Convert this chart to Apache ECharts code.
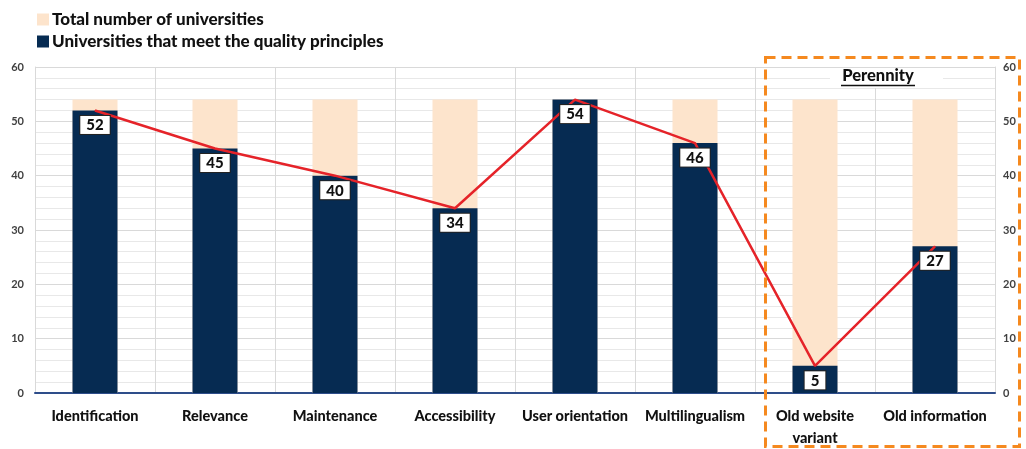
<!DOCTYPE html>
<html><head><meta charset="utf-8">
<script src="https://cdn.jsdelivr.net/npm/echarts@6/dist/echarts.min.js"></script>
<style>html,body{margin:0;padding:0;background:#fff}#c{width:1026px;height:449px}</style>
</head><body><div id="c"></div>
<script>
const categories = ['Identification','Relevance','Maintenance','Accessibility','User orientation','Multilingualism','Old website\nvariant','Old information'];
const totalUniversities = [54,54,54,54,54,54,54,54];
const qualityUniversities = [52,45,40,34,54,46,5,27];
const yTicks = [0,10,20,30,40,50,60];

const FONT = 'Lato';
const chart = echarts.init(document.getElementById('c'));
const yAxisBase = {
  type:'value', min:yTicks[0], max:yTicks[yTicks.length-1], interval:10,
  axisLabel:{fontFamily:FONT, fontWeight:'bold', fontSize:11, color:'#404040', margin:11},
  axisLine:{show:true, lineStyle:{color:'#d9d9d9', width:1}},
  axisTick:{show:false},
  splitLine:{show:true, lineStyle:{color:'#d9d9d9', width:1}},
  minorTick:{show:false, splitNumber:5},
  minorSplitLine:{show:true, lineStyle:{color:'#e8e8e8', width:1}}
};
chart.setOption({
  animation:false,
  backgroundColor:'#fff',
  textStyle:{fontFamily:FONT},
  legend:{
    orient:'vertical', left:32, top:6, itemGap:5, itemWidth:12, itemHeight:12,
    icon:'rect', data:['Total number of universities','Universities that meet the quality principles'],
    textStyle:{fontFamily:FONT, fontWeight:900, fontSize:17, color:'#111', padding:[0,0,0,-2]}
  },
  grid:{left:35, right:31, top:67, bottom:53, containLabel:false},
  xAxis:{
    type:'category', data:categories, boundaryGap:true,
    axisLine:{show:true, lineStyle:{color:'#2e4d8a', width:2}},
    axisTick:{show:false},
    splitLine:{show:true, lineStyle:{color:'#d9d9d9', width:1}},
    axisLabel:{fontFamily:FONT, fontWeight:900, fontSize:14.5, color:'#111', margin:12, interval:0, lineHeight:22}
  },
  yAxis:[Object.assign({position:'left'}, yAxisBase),
         Object.assign({position:'right'}, yAxisBase, {splitLine:{show:false}, minorSplitLine:{show:false},
           axisLabel:{fontFamily:FONT, fontWeight:'bold', fontSize:11, color:'#404040', margin:8}})],
  series:[
    {name:'Total number of universities', type:'bar', data:totalUniversities, barWidth:'37.5%',
     itemStyle:{color:'#fde4cc'}, z:1},
    {name:'Universities that meet the quality principles', type:'bar', data:qualityUniversities, barWidth:'37.5%', barGap:'-100%',
     itemStyle:{color:'#062b52'}, z:2},
    {name:'trend', type:'line', data:qualityUniversities, symbol:'circle', symbolSize:1, z:5,
     lineStyle:{color:'#e52329', width:2.5}, itemStyle:{color:'#e52329'},
     label:{show:true, position:'bottom', distance:5, fontFamily:FONT, fontWeight:900, fontSize:15, color:'#111',
            backgroundColor:'#fff', borderColor:'#222', borderWidth:1, padding:[2,6,1,6]}}
  ],
  graphic:[
    {type:'rect', shape:{x:830, y:68, width:113, height:20}, style:{fill:'#fff'}, z:10},
    {type:'text', x:878, y:76, style:{text:'Perennity', fontFamily:FONT, fontWeight:900, fontSize:16.5, fill:'#111', textAlign:'center', textVerticalAlign:'middle'}, z:11},
    {type:'line', shape:{x1:841, y1:85.5, x2:915, y2:85.5}, style:{stroke:'#111', lineWidth:1.3}, z:11},
    {type:'rect', shape:{x:765.5, y:57.5, width:254, height:389}, style:{fill:'none', stroke:'#f5891f', lineWidth:3, lineDash:[10,6]}, z:12}
  ]
});
</script></body></html>
